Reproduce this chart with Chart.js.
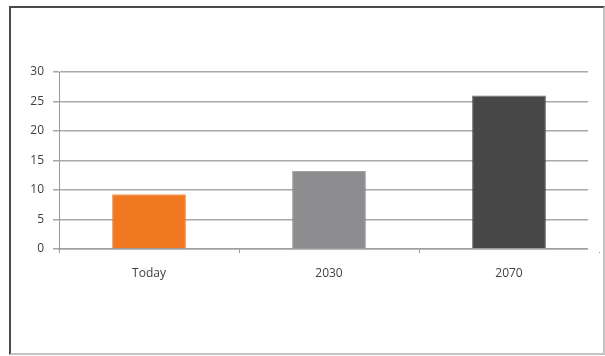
<!DOCTYPE html>
<html>
<head>
<meta charset="utf-8">
<script src="https://cdn.jsdelivr.net/npm/chart.js@4.4.1/dist/chart.umd.min.js"></script>
<style>
  body { margin: 0; background: #fff; }
  #wrap { position: relative; width: 605px; height: 356px; }
  #frame {
    position: absolute; left: 9px; top: 6px; width: 592px; height: 345px;
    border-left: 2px solid #4a4a4a; border-top: 2px solid #4a4a4a;
    border-right: 2px solid #c4c4c4; border-bottom: 2px solid #c4c4c4;
  }
  #chart { position: absolute; left: 0; top: 0; }
</style>
</head>
<body>
<div id="wrap">
  <div id="frame"></div>
  <canvas id="chart" width="605" height="356"></canvas>
</div>
<script>
var categories = ['Today', '2030', '2070'];
var values = [9.3, 13.2, 26.0];
var barColors = ['#f07820', '#8d8d90', '#474747'];
var yTicks = [0, 5, 10, 15, 20, 25, 30];

// gridlines in the original stop a little short of the last category slot
var trimGrid = {
    id: 'trimGrid',
    afterDraw: (chart) => {
        var a = chart.chartArea, ctx = chart.ctx;
        ctx.save();
        ctx.fillStyle = '#fff';
        ctx.fillRect(588, a.top - 3, a.right - 588 + 2, a.bottom - a.top + 6);
        ctx.restore();
    }
};

new Chart(document.getElementById('chart'), {
    type: 'bar',
    data: {
        labels: categories,
        datasets: [{
            data: values,
            backgroundColor: barColors,
            borderColor: barColors.map(c => c + 'cc'),
            borderWidth: 1,
            barPercentage: 0.41,
            categoryPercentage: 1
        }]
    },
    options: {
        responsive: false,
        animation: false,
        layout: { padding: { top: 72, right: 6, left: 0, bottom: 0 } },
        plugins: { legend: { display: false }, tooltip: { enabled: false } },
        scales: {
            x: {
                grid: { drawOnChartArea: false, tickLength: 4, color: '#999', offset: true },
                border: { color: '#a0a0a0', width: 1.5 },
                ticks: { color: '#404040', padding: 13, font: { family: 'Open Sans', size: 12 } },
                afterFit: (s) => { s.height = 107; }
            },
            y: {
                min: 0,
                max: 30,
                afterBuildTicks: (s) => { s.ticks = yTicks.map(v => ({ value: v })); },
                grid: { color: '#a8a8a8', lineWidth: 1.5, tickLength: 6 },
                border: { color: '#999', width: 1 },
                ticks: { color: '#404040', padding: 9, font: { family: 'Open Sans', size: 12 } },
                afterFit: (s) => { s.width = 59; }
            }
        }
    },
    plugins: [trimGrid]
});
</script>
</body>
</html>
